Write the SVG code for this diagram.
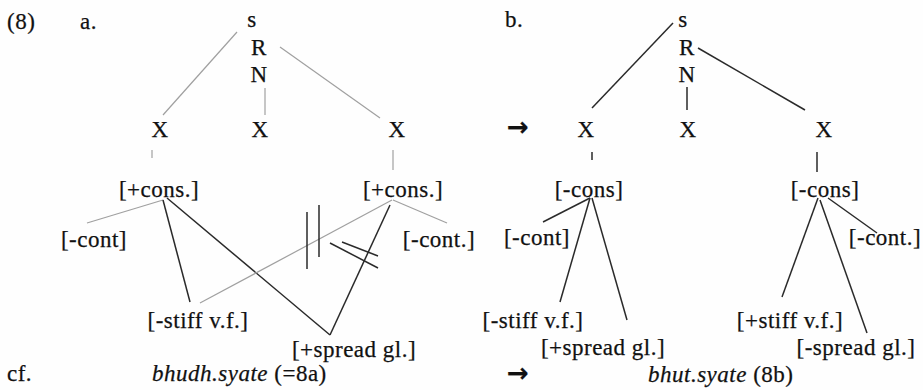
<svg xmlns="http://www.w3.org/2000/svg" width="923" height="390" viewBox="0 0 923 390">
<style>
text{font-family:"Liberation Serif","Times New Roman",serif;font-size:23px;letter-spacing:0.5px;fill:#111;stroke:#111;stroke-width:0.25}
.m{text-anchor:middle}
.i{font-style:italic}
.ar{font-family:"DejaVu Sans",sans-serif;font-size:26px;font-weight:bold;letter-spacing:0}
.d{stroke:#2a2a2a;stroke-width:1.5;fill:none}
.f{stroke:#a0a0a0;stroke-width:1.2;fill:none}
</style>
<rect width="923" height="390" fill="#fefefe"/>
<g id="labels">
<text x="7" y="29">(8)</text>
<text x="80" y="29">a.</text>
<text x="505" y="27">b.</text>
<text x="7" y="381">cf.</text>
<text x="152" y="381"><tspan class="i">bhudh.syate</tspan> (=8a)</text>
<text x="648" y="382"><tspan class="i">bhut.syate</tspan> (8b)</text>
<text class="m ar" x="518" y="136">→</text>
<text class="m ar" x="518" y="382">→</text>
</g>
<g id="connectors">
<line class="f" x1="237" y1="32" x2="163" y2="115"/>
<line class="f" x1="280" y1="47" x2="380" y2="118"/>
<line class="f" x1="265" y1="88" x2="265" y2="115"/>
<line class="f" x1="152" y1="150" x2="152" y2="158"/>
<line class="f" x1="393" y1="150" x2="393" y2="170"/>
<line class="f" x1="163" y1="200" x2="87" y2="223"/>
<line class="d" x1="163" y1="200" x2="190" y2="302"/>
<line class="d" x1="167" y1="198" x2="330" y2="335"/>
<line class="f" x1="392" y1="200" x2="200" y2="303"/>
<line class="d" x1="390" y1="205" x2="330" y2="335"/>
<line class="f" x1="393" y1="200" x2="447" y2="223"/>
<line class="d" x1="307" y1="212" x2="307" y2="269"/>
<line class="d" x1="319" y1="205" x2="319" y2="257"/>
<line class="d" x1="330" y1="243" x2="378" y2="268"/>
<line class="d" x1="342" y1="242" x2="378" y2="256"/>
<line class="d" x1="673" y1="23" x2="592" y2="108"/>
<line class="d" x1="698" y1="48" x2="805" y2="110"/>
<line class="d" x1="687" y1="87" x2="687" y2="110"/>
<line class="d" x1="592" y1="152" x2="592" y2="160"/>
<line class="d" x1="817" y1="152" x2="817" y2="172"/>
<line class="d" x1="590" y1="198" x2="543" y2="222"/>
<line class="d" x1="590" y1="198" x2="560" y2="302"/>
<line class="d" x1="592" y1="198" x2="627" y2="320"/>
<line class="d" x1="818" y1="198" x2="782" y2="297"/>
<line class="d" x1="820" y1="200" x2="867" y2="333"/>
<line class="d" x1="828" y1="198" x2="877" y2="233"/>
</g>
<g id="a-s"><text class="m" x="252" y="27">s</text></g>
<g id="a-R"><text class="m" x="259" y="55">R</text></g>
<g id="a-N"><text class="m" x="259" y="82">N</text></g>
<g id="a-X1"><text class="m" x="160" y="137">X</text></g>
<g id="a-X2"><text class="m" x="260" y="137">X</text></g>
<g id="a-X3"><text class="m" x="397" y="137">X</text></g>
<g id="a-cons1"><text class="m" x="159" y="197">[+cons.]</text></g>
<g id="a-cons2"><text class="m" x="403" y="197">[+cons.]</text></g>
<g id="a-cont1"><text class="m" x="94" y="247">[-cont]</text></g>
<g id="a-cont2"><text class="m" x="439" y="247">[-cont.]</text></g>
<g id="a-stiff"><text class="m" x="198" y="328">[-stiff v.f.]</text></g>
<g id="a-spread"><text class="m" x="354" y="357">[+spread gl.]</text></g>
<g id="b-s"><text class="m" x="683" y="27">s</text></g>
<g id="b-R"><text class="m" x="687" y="55">R</text></g>
<g id="b-N"><text class="m" x="687" y="82">N</text></g>
<g id="b-X1"><text class="m" x="586" y="137">X</text></g>
<g id="b-X2"><text class="m" x="688" y="137">X</text></g>
<g id="b-X3"><text class="m" x="824" y="137">X</text></g>
<g id="b-cons1"><text class="m" x="589" y="197">[-cons]</text></g>
<g id="b-cons2"><text class="m" x="825" y="197">[-cons]</text></g>
<g id="b-cont1"><text class="m" x="537" y="245">[-cont]</text></g>
<g id="b-cont2"><text class="m" x="885" y="245">[-cont.]</text></g>
<g id="b-stiff1"><text class="m" x="533" y="328">[-stiff v.f.]</text></g>
<g id="b-spread1"><text class="m" x="603" y="355">[+spread gl.]</text></g>
<g id="b-stiff2"><text class="m" x="790" y="328">[+stiff v.f.]</text></g>
<g id="b-spread2"><text class="m" x="856" y="355">[-spread gl.]</text></g>
</svg>
